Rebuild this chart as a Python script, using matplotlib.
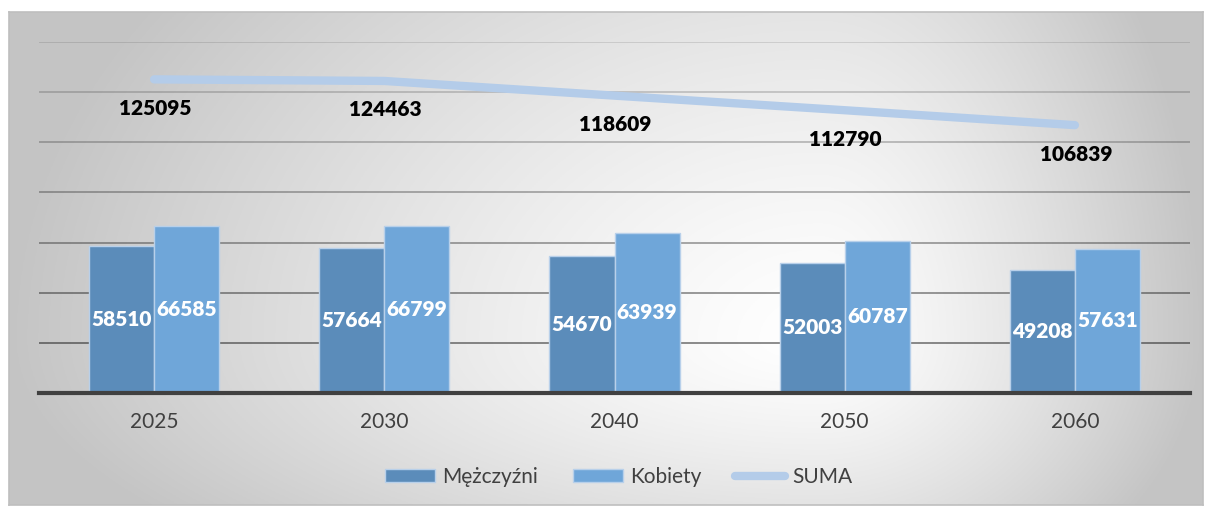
import numpy as np
import matplotlib
matplotlib.use('Agg')
import matplotlib.pyplot as plt
from matplotlib.lines import Line2D
from matplotlib.patches import Patch

plt.rcParams['font.family'] = ['Lato', 'DejaVu Sans']

years = ['2025', '2030', '2040', '2050', '2060']
men = [58510, 57664, 54670, 52003, 49208]
women = [66585, 66799, 63939, 60787, 57631]
total = [125095, 124463, 118609, 112790, 106839]

W, H = 1211, 509
fig = plt.figure(figsize=(W / 100, H / 100), dpi=100)

# radial-ish grey background panel
bg = fig.add_axes([9 / W, 1 - 505 / H, (1203 - 9) / W, (505 - 12) / H], zorder=-5)
xs = np.linspace(9, 1203, 600)
ys = np.linspace(12, 505, 250)
X, Y = np.meshgrid(xs, ys)
cx, cy = 820, 340
tx = np.where(X < cx, (cx - X) / (cx - 9), (X - cx) / (1203 - cx))
ty = np.where(Y < cy, (cy - Y) / (cy - 12), (Y - cy) / (505 - cy))
r = np.clip(np.sqrt(tx ** 2 + (0.55 * ty) ** 2), 0, 1)
v = 1 - 0.23 * r ** 1.3
bg.imshow(np.dstack([v, v, v]), aspect='auto', extent=[0, 1, 0, 1])
bg.set_xticks([])
bg.set_yticks([])
for s in bg.spines.values():
    s.set_color('#bfbfbf')
    s.set_linewidth(1.2)

ax = fig.add_axes([39 / W, 1 - 393 / H, (1190 - 39) / W, (393 - 42) / H])
ax.patch.set_alpha(0)
x = np.arange(len(years))
bw = 0.283
b1 = ax.bar(x - bw / 2, men, bw, color='#5b8cba', edgecolor='#b8d0ea', linewidth=1.0, zorder=3)
b2 = ax.bar(x + bw / 2, women, bw, color='#6fa6d9', edgecolor='#b8d0ea', linewidth=1.0, zorder=3)
ax.bar_label(b1, labels=[str(m) for m in men], label_type='center', color='white',
             fontsize=15, fontweight='heavy', zorder=5)
ax.bar_label(b2, labels=[str(w) for w in women], label_type='center', color='white',
             fontsize=15, fontweight='heavy', zorder=5)
ax.plot(x, total, color='#b4cce9', linewidth=6, solid_capstyle='round', zorder=4)
for xi, t in zip(x, total):
    ax.annotate(str(t), (xi, t), xytext=(1, -29), textcoords='offset pixels',
                ha='center', va='center', fontsize=15, fontweight='heavy', color='black', zorder=6)

ax.set_xlim(-0.5, len(years) - 0.5)
ax.set_ylim(0, 140000)
# gridlines fade toward the top
grid_vals = np.arange(20000, 140001, 20000)
grid_alpha = np.linspace(0.48, 0.12, len(grid_vals))
for gv, ga in zip(grid_vals, grid_alpha):
    ax.axhline(gv, color='black', alpha=ga, linewidth=1.3, zorder=1)
ax.set_yticks([])
ax.tick_params(axis='x', length=0, pad=14, labelsize=15, labelcolor='#404040')
ax.set_xticks(x)
ax.set_xticklabels(years)
for k in ['top', 'right', 'left']:
    ax.spines[k].set_visible(False)
ax.spines['bottom'].set_color('#404040')
ax.spines['bottom'].set_linewidth(3)
ax.spines['bottom'].set_zorder(6)

handles = [Patch(facecolor='#5b8cba', edgecolor='#b8d0ea'),
           Patch(facecolor='#6fa6d9', edgecolor='#b8d0ea'),
           Line2D([0], [0], color='#b4cce9', linewidth=6, solid_capstyle='round')]
fig.legend(handles, ['Mężczyźni', 'Kobiety', 'SUMA'], loc='center',
           bbox_to_anchor=(619 / W, 1 - 477 / H), ncol=3, frameon=False,
           fontsize=15, labelcolor='#404040', handlelength=2.4, handleheight=0.62,
           handletextpad=0.34, columnspacing=1.65)

fig.savefig('out.png', dpi=100)
